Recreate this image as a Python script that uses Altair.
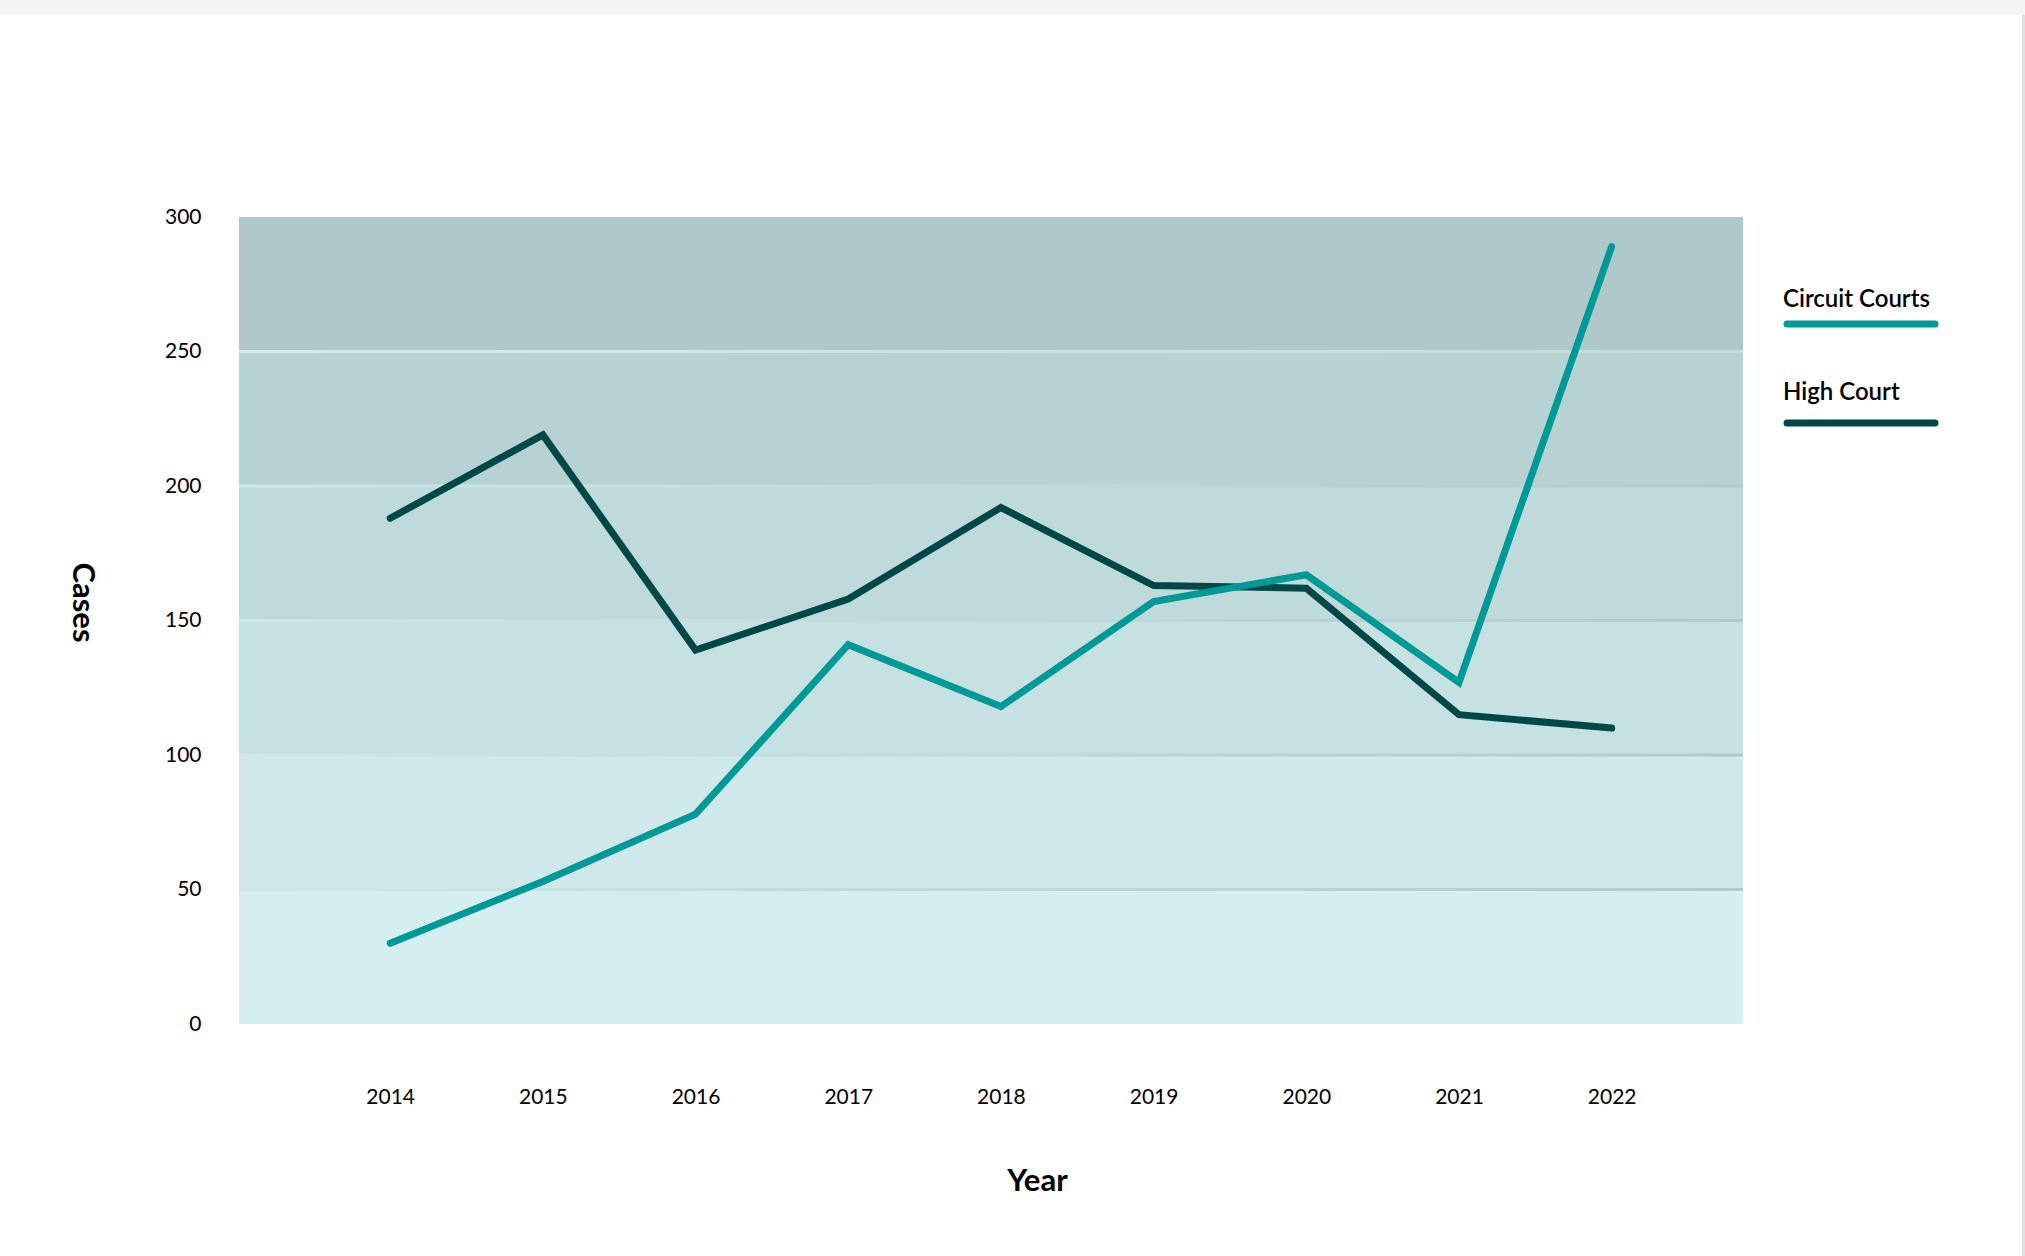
import altair as alt
import pandas as pd

# ---- data ----
years = [2014, 2015, 2016, 2017, 2018, 2019, 2020, 2021, 2022]
circuit_courts = [30, 53, 78, 141, 118, 157, 167, 127, 289]
high_court = [188, 219, 139, 158, 192, 163, 162, 115, 110]
series_names = ["Circuit Courts", "High Court"]
series_colors = ["#009a96", "#004747"]

y_ticks = [0, 50, 100, 150, 200, 250, 300]
band_low = [0, 50, 100, 150, 200, 250]
band_high = [50, 100, 150, 200, 250, 300]
band_colors = ["#d5eff0", "#cfe8e9", "#c6e1e2", "#bfdadb", "#b7d2d3", "#afc8c9"]
grid_dark = [50, 100, 150, 200]
grid_light = [250]

W, H = 1504, 807
FONT = "Lato"

df_c = pd.DataFrame({"Year": years, "Cases": circuit_courts, "Series": series_names[0]})
df_h = pd.DataFrame({"Year": years, "Cases": high_court, "Series": series_names[1]})
df_band = pd.DataFrame({"lo": band_low, "hi": band_high, "col": band_colors})
df_gd = pd.DataFrame({"v": grid_dark})
df_gl = pd.DataFrame({"v": grid_light})

xscale = alt.Scale(domain=[2013.01, 2022.86], nice=False, zero=False)
yscale = alt.Scale(domain=[0, 300], nice=False)

x_axis = alt.Axis(values=years, format="d", grid=False, domain=False, ticks=False,
                  labelFontSize=21, labelColor="#000", labelFont=FONT, labelPadding=62,
                  title="Year", titleFont=FONT, titleFontSize=31, titleFontWeight="bold",
                  titleColor="#000", titleX=798, titleY=166, titleAlign="center",
                  titleBaseline="alphabetic")
y_axis = alt.Axis(values=y_ticks, grid=False, domain=False, ticks=False,
                  labelFontSize=21, labelColor="#000", labelFont=FONT, labelPadding=38,
                  title="Cases", titleFont=FONT, titleFontSize=31, titleFontWeight="bold",
                  titleColor="#000", titleAngle=90, titleX=-158, titleY=385,
                  titleAlign="center", titleBaseline="middle")

bands = alt.Chart(df_band).mark_rect().encode(
    x=alt.value(0), x2=alt.value(W),
    y=alt.Y("lo:Q", scale=yscale, axis=y_axis), y2="hi:Q",
    fill=alt.Fill("col:N", scale=None),
)

grad_dark = alt.Gradient(gradient="linear", x1=0, x2=1, y1=0, y2=0,
                         stops=[alt.GradientStop(color="#cde8ea", offset=0),
                                alt.GradientStop(color="#c2dcdd", offset=0.4),
                                alt.GradientStop(color="#b0cbcc", offset=1)])
grad_light = alt.Gradient(gradient="linear", x1=0, x2=1, y1=0, y2=0,
                          stops=[alt.GradientStop(color="#d0ecee", offset=0),
                                 alt.GradientStop(color="#c2dcdd", offset=1)])

grid1 = alt.Chart(df_gd).mark_rect(fill=grad_dark, yOffset=1.5, y2Offset=-1.5).encode(
    x=alt.value(0), x2=alt.value(W), y=alt.Y("v:Q", scale=yscale), y2="v:Q")
grid2 = alt.Chart(df_gl).mark_rect(fill=grad_light, yOffset=1.5, y2Offset=-1.5).encode(
    x=alt.value(0), x2=alt.value(W), y=alt.Y("v:Q", scale=yscale), y2="v:Q")

line_h = alt.Chart(df_h).mark_line(strokeWidth=7, strokeCap="round", strokeJoin="miter",
                                   color=series_colors[1]).encode(
    x=alt.X("Year:Q", scale=xscale, axis=x_axis),
    y=alt.Y("Cases:Q", scale=yscale),
)
line_c = alt.Chart(df_c).mark_line(strokeWidth=7, strokeCap="round", strokeJoin="miter",
                                   color=series_colors[0]).encode(
    x=alt.X("Year:Q", scale=xscale),
    y=alt.Y("Cases:Q", scale=yscale),
)

# ---- custom legend (label above a line swatch) ----
leg_layers = []
label_y = [90, 183]
swatch_y = [107, 206]
for name, col, ly, sy in zip(series_names, series_colors, label_y, swatch_y):
    d = pd.DataFrame({"label": [name]})
    leg_layers.append(alt.Chart(d).mark_text(font=FONT, fontSize=24, fontWeight=600,
                                             color="#000", align="left",
                                             baseline="alphabetic").encode(
        x=alt.value(1544), y=alt.value(ly), text="label:N"))
    leg_layers.append(alt.Chart(d).mark_rule(strokeWidth=7, strokeCap="round",
                                             color=col).encode(
        x=alt.value(1548), x2=alt.value(1696), y=alt.value(sy)))

# page frame details (top strip, right edge)
frame = pd.DataFrame({"k": [0]})
top_strip = alt.Chart(frame).mark_rect(color="#f5f5f5").encode(
    x=alt.value(-239), x2=alt.value(2025 - 239), y=alt.value(-217), y2=alt.value(-202))
right_edge = alt.Chart(frame).mark_rect(color="#e2e2e2").encode(
    x=alt.value(2022 - 239), x2=alt.value(2025 - 239), y=alt.value(-202), y2=alt.value(1256 - 217))

chart = alt.layer(bands, grid1, grid2, line_h, line_c, *leg_layers, top_strip, right_edge).properties(
    width=W, height=H,
    padding={"left": 239, "top": 217, "right": 2025 - 239 - W, "bottom": 1256 - 217 - H},
    autosize=alt.AutoSizeParams(type="none"),
    background="#ffffff",
).configure_view(strokeWidth=0)

chart.save("out.html", embed_options={"renderer": "svg", "actions": False})
